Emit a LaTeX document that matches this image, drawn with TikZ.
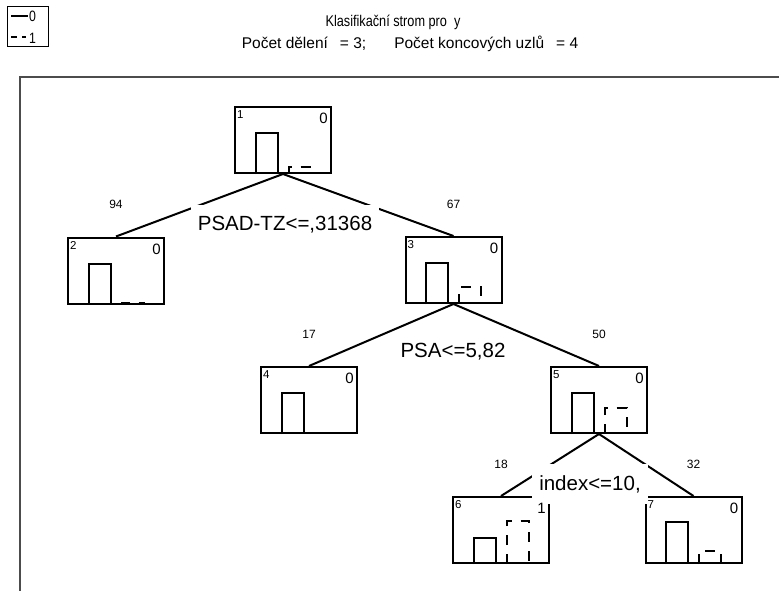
\documentclass[tikz,border=0pt]{standalone}
\usepackage{fontspec}
\setmainfont{Liberation Sans}
\newfontfamily\condfont[FakeStretch=0.82]{Liberation Sans}
\newcommand\mybars[3]{%
  \draw[sbar] ([xshift=21.5pt]#1.south west) -- ++(0,-#2) -- ++(22,0) -- ++(0,#2);
  \ifdim #3pt>0pt
    \draw[dbar] ([xshift=54.5pt]#1.south west) -- ++(0,-#3) -- ++(22,0) -- ++(0,#3);
  \fi}
\begin{document}
\begin{tikzpicture}[x=1pt,y=-1pt,
  tnode/.style={draw,line width=2pt,minimum width=96pt,minimum height=66pt,inner sep=0pt},
  sbar/.style={line width=2pt},
  dbar/.style={line width=2pt,dash pattern=on 10pt off 9pt},
  conn/.style={line width=2pt},
  nnum/.style={font=\fontsize{11.5}{11.5}\selectfont,inner sep=0pt,anchor=north west},
  ncls/.style={font=\fontsize{15}{15}\selectfont,inner sep=0pt,anchor=north east},
  cnt/.style={font=\fontsize{12}{12}\selectfont,inner sep=0pt},
  split/.style={font=\fontsize{20.5}{20.5}\selectfont,fill=white,inner xsep=7pt,minimum height=40pt},
  frame/.style={line width=1.5pt,draw=black!70},
  ttl/.style={inner sep=0pt}]
\useasboundingbox (0,0) rectangle (779,591);
\fill[white] (0,0) rectangle (779,591);
% frame
\draw[frame] (779,77) -- (20,77) -- (20,591);
% titles
\node[ttl,font=\condfont\fontsize{15.5}{15.5}\selectfont] (t1) at (393,22) {Klasifika\symbol{"010D}n\symbol{"00ED} strom pro\ \ y};
\node[ttl,font=\fontsize{15.5}{15.5}\selectfont] (t2) at (410,44) {Po\symbol{"010D}et d\symbol{"011B}len\symbol{"00ED}\hspace{12pt}= 3;\hspace{28pt}Po\symbol{"010D}et koncov\symbol{"00FD}ch uzl\symbol{"016F}\hspace{12pt}= 4};
% legend
\draw[line width=1pt] (7,7) rectangle (48,47);
\draw[line width=2pt] (11,16) -- (28,16);
\draw[line width=2pt] (11,37) -- (17,37) (22,37) -- (26,37);
\node[font=\condfont\fontsize{15}{15}\selectfont,inner sep=0pt,anchor=west] (l0) at (29,16) {0};
\node[font=\condfont\fontsize{15}{15}\selectfont,inner sep=0pt,anchor=west] (l1) at (29,38) {1};
% nodes
\node[tnode] (n1) at (283,140) {};
\node[tnode] (n2) at (116,270.5) {};
\node[tnode] (n3) at (453.5,270) {};
\node[tnode] (n4) at (309,400) {};
\node[tnode] (n5) at (599,400) {};
\node[tnode] (n6) at (501,530) {};
\node[tnode] (n7) at (693.5,530) {};
% connectors
\draw[conn] (n1.south) -- (n2.north);
\draw[conn] (n1.south) -- (n3.north);
\draw[conn] (n3.south) -- (n4.north);
\draw[conn] (n3.south) -- (n5.north);
\draw[conn] (n5.south) -- (n6.north);
\draw[conn] (n5.south) -- (n7.north);
% split labels
\node[split] (s1) at (285,225) {PSAD-TZ<=,31368};
\node[split] (s3) at (453,352) {PSA<=5,82};
\node[split] (s5) at (590,484) {index<=10,};
% counts
\node[cnt] (c2) at ([yshift=32pt]n2.north) {94};
\node[cnt] (c3) at ([yshift=32pt]n3.north) {67};
\node[cnt] (c4) at ([yshift=32pt]n4.north) {17};
\node[cnt] (c5) at ([yshift=32pt]n5.north) {50};
\node[cnt] (c6) at ([yshift=32pt]n6.north) {18};
\node[cnt] (c7) at ([yshift=32pt]n7.north) {32};
% labels in nodes
\foreach \n/\c in {1/0,2/0,3/0,4/0,5/0,6/1,7/0}{
  \node[nnum] (num\n) at ([xshift=3pt,yshift=-4.5pt]n\n.north west) {\n};
  \node[ncls] (cls\n) at ([xshift=-4pt,yshift=-7pt]n\n.north east) {\c};
}
% bars
\mybars{n1}{41}{7}
\mybars{n2}{41}{2}
\mybars{n3}{41}{17}
\mybars{n4}{41}{0}
\mybars{n5}{41}{26}
\mybars{n6}{26}{43}
\mybars{n7}{42}{13}
\end{tikzpicture}
\end{document}
